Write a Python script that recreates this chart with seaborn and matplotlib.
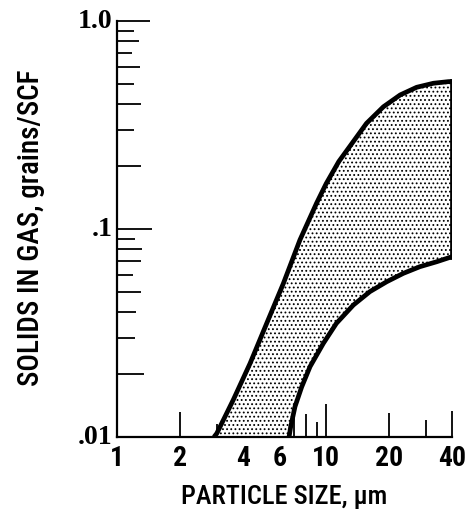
import matplotlib
matplotlib.use("Agg")
import matplotlib.pyplot as plt
import seaborn as sns
import pandas as pd
from matplotlib import font_manager as fm
from matplotlib.ticker import FixedLocator, FixedFormatter, NullLocator

# ---- data (log-log) ----
upper_size = [2.91, 3.0, 3.6, 4.33, 5.2, 6.25, 7.5, 9.0, 10.0, 11.5, 13.0, 15.6, 18.8, 22.6, 27.1, 32.6, 38.4, 40.0]
upper_solids = [0.0100, 0.0104, 0.0151, 0.0226, 0.0352, 0.0548, 0.0887, 0.133, 0.165, 0.211, 0.250, 0.322, 0.387, 0.441, 0.480, 0.502, 0.511, 0.512]
lower_size = [6.65, 6.77, 7.10, 7.64, 8.38, 9.70, 11.2, 13.5, 16.2, 19.5, 23.4, 28.1, 33.8, 40.0]
lower_solids = [0.0100, 0.0112, 0.0140, 0.0174, 0.0218, 0.0282, 0.0352, 0.0431, 0.0500, 0.0558, 0.0612, 0.0659, 0.0696, 0.0736]

x_ticks = [1, 2, 3, 4, 5, 6, 7, 8, 9, 10, 20, 30, 40]
x_tick_labels = ["1", "2", "", "4", "", "6", "", "", "", "10", "20", "", "40"]
y_ticks = [0.01, 0.02, 0.03, 0.04, 0.05, 0.06, 0.07, 0.08, 0.09,
           0.1, 0.2, 0.3, 0.4, 0.5, 0.6, 0.7, 0.8, 0.9, 1.0]
y_tick_labels = [".01", "", "", "", "", "", "", "", "",
                 ".1", "", "", "", "", "", "", "", "", "1.0"]

# tick lengths in pixels (style only)
x_tick_len_px = [0, 25, 13, 24, 13, 25, 20, 23, 15, 33, 24, 17, 26]
y_tick_len_px = [0, 27, 18, 19, 24, 16, 24, 25, 18,
                 35, 24, 17, 24, 17, 23, 15, 22, 17, 33]


def _w(v):
    if isinstance(v, (int, float)):
        return v
    return fm.weight_dict.get(str(v).lower(), 400)


def find_condensed(target_weight):
    pref = ["liberation sans narrow", "noto sans", "roboto", "open sans",
            "dejavu sans", "arial narrow", "nimbus sans"]
    best = None
    for f in fm.fontManager.ttflist:
        name = f.name.lower()
        st = str(f.stretch).lower()
        cond = ("narrow" in name or ("condensed" in name and "extra" not in name)
                or st in ("condensed", "semi-condensed"))
        if not cond or f.style != "normal":
            continue
        if "mono" in name or "serif" in name:
            continue
        wd = abs(_w(f.weight) - target_weight)
        rank = next((i for i, p in enumerate(pref) if name.startswith(p)), 99)
        key = (wd, rank)
        if best is None or key < best[0]:
            best = (key, f.fname)
    return best[1] if best else None


sns.set_theme(style="white")
plt.rcParams["font.family"] = ["DejaVu Sans"]
plt.rcParams["hatch.linewidth"] = 0.8

cond_bold = find_condensed(700)
cond_mid = find_condensed(550)

if cond_bold:
    xtick_fp = fm.FontProperties(fname=cond_bold, size=20)
else:
    xtick_fp = fm.FontProperties(family="DejaVu Sans", size=14, weight="bold")
if cond_mid:
    xlabel_fp = fm.FontProperties(fname=cond_mid, size=19)
    ylabel_fp = fm.FontProperties(fname=cond_mid, size=21)
else:
    xlabel_fp = fm.FontProperties(family="DejaVu Sans", size=15.5)
    ylabel_fp = fm.FontProperties(family="DejaVu Sans", size=17)
ytick_fp = fm.FontProperties(family=["Liberation Serif", "DejaVu Serif"], size=20, weight="bold")

W, H = 468, 517
fig = plt.figure(figsize=(W / 100, H / 100), dpi=100)
x0, x1, y0, y1 = 117, 452, 21, 437
ax = fig.add_axes([x0 / W, 1 - y1 / H, (x1 - x0) / W, (y1 - y0) / H])
ax.set_xscale("log")
ax.set_yscale("log")

# shaded (stippled) band
band_x = upper_size + lower_size[::-1]
band_y = upper_solids + lower_solids[::-1]
ax.fill(band_x, band_y, facecolor="white", edgecolor="black", linewidth=0,
        hatch="....", zorder=1)

df_u = pd.DataFrame({"size": upper_size, "solids": upper_solids})
df_l = pd.DataFrame({"size": lower_size, "solids": lower_solids})
lw = 3.4
sns.lineplot(data=df_u, x="size", y="solids", sort=False, color="black", lw=lw, ax=ax,
             solid_joinstyle="round", solid_capstyle="butt", zorder=3)
sns.lineplot(data=df_l, x="size", y="solids", sort=False, color="black", lw=lw, ax=ax,
             solid_joinstyle="round", solid_capstyle="butt", zorder=3)
ax.plot([upper_size[-1], lower_size[-1]], [upper_solids[-1], lower_solids[-1]],
        color="black", lw=lw, solid_capstyle="projecting", zorder=3)

ax.set_xlim(1, 40)
ax.set_ylim(0.01, 1.0)

for s in ["top", "right"]:
    ax.spines[s].set_visible(False)
for s in ["left", "bottom"]:
    ax.spines[s].set_color("black")
    ax.spines[s].set_linewidth(1.6)

ax.xaxis.set_major_locator(FixedLocator(x_ticks))
ax.xaxis.set_major_formatter(FixedFormatter(x_tick_labels))
ax.xaxis.set_minor_locator(NullLocator())
ax.yaxis.set_major_locator(FixedLocator(y_ticks))
ax.yaxis.set_major_formatter(FixedFormatter(y_tick_labels))
ax.yaxis.set_minor_locator(NullLocator())

ax.tick_params(axis="both", which="major", direction="in", width=1.3, color="black",
               bottom=True, left=True, top=False, right=False)
ax.tick_params(axis="x", pad=6)
ax.tick_params(axis="y", pad=3)

px2pt = 0.72
for t, L in zip(ax.xaxis.get_major_ticks(), x_tick_len_px):
    t.tick1line.set_markersize(L * px2pt)
for t, L in zip(ax.yaxis.get_major_ticks(), y_tick_len_px):
    t.tick1line.set_markersize(L * px2pt)

for lab in ax.get_xticklabels():
    lab.set_fontproperties(xtick_fp)
    lab.set_color("black")
for lab in ax.get_yticklabels():
    lab.set_fontproperties(ytick_fp)
    lab.set_color("black")
    lab.set_va("center")

ax.set_xlabel("PARTICLE SIZE, µm", fontproperties=xlabel_fp, color="black")
ax.set_ylabel("SOLIDS IN GAS, grains/SCF", fontproperties=ylabel_fp, color="black")
ax.xaxis.set_label_coords((284 - x0) / (x1 - x0), (y1 - 497) / (y1 - y0))
ax.yaxis.set_label_coords((31 - x0) / (x1 - x0), (y1 - 228) / (y1 - y0))
ax.xaxis.label.set_va("center")
ax.yaxis.label.set_va("center")

ax.set_facecolor("white")
fig.patch.set_facecolor("white")
fig.savefig("out.png", dpi=100, facecolor="white")
